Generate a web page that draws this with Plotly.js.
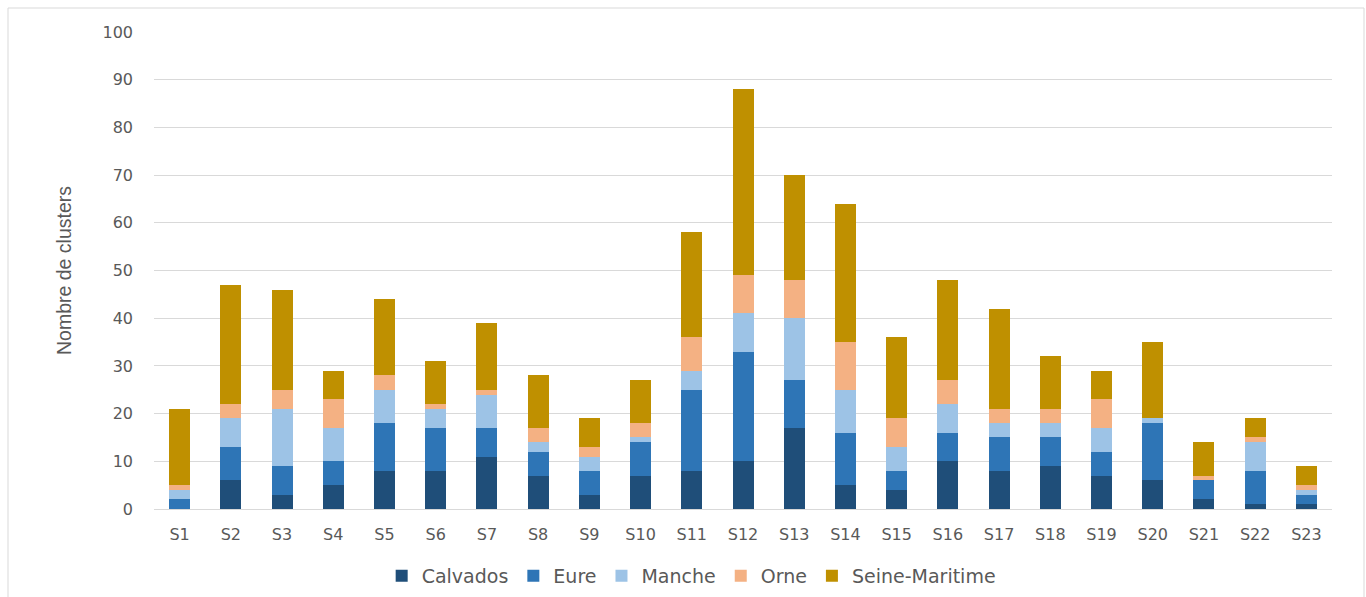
<!DOCTYPE html>
<html>
<head>
<meta charset="utf-8">
<script src="https://cdn.plot.ly/plotly-3.0.1.min.js"></script>
<style>
  html, body { margin: 0; padding: 0; background: #ffffff; }
  #chart { width: 1366px; height: 597px; }
</style>
</head>
<body>
<div id="chart"></div>
<script>
// Weekly cluster counts per département (stacked)
const weeks = ["S1","S2","S3","S4","S5","S6","S7","S8","S9","S10","S11","S12",
               "S13","S14","S15","S16","S17","S18","S19","S20","S21","S22","S23"];
const calvados      = [0,6,3,5,8,8,11,7,3,7,8,10,17,5,4,10,8,9,7,6,2,1,1];
const eure          = [2,7,6,5,10,9,6,5,5,7,17,23,10,11,4,6,7,6,5,12,4,7,2];
const manche        = [2,6,12,7,7,4,7,2,3,1,4,8,13,9,5,6,3,3,5,1,0,6,1];
const orne          = [1,3,4,6,3,1,1,3,2,3,7,8,8,10,6,5,3,3,6,0,1,1,1];
const seineMaritime = [16,25,21,6,16,9,14,11,6,9,22,39,22,29,17,21,21,11,6,16,7,4,4];
const yTicks = [0,10,20,30,40,50,60,70,80,90,100];

const series = [
  { name: "Calvados",       y: calvados,      color: "#1F4E79" },
  { name: "Eure",           y: eure,          color: "#2E75B6" },
  { name: "Manche",         y: manche,        color: "#9DC3E6" },
  { name: "Orne",           y: orne,          color: "#F4B183" },
  { name: "Seine-Maritime", y: seineMaritime, color: "#BF9000" }
];

const traces = series.map(s => ({
  type: "bar",
  name: s.name,
  x: weeks,
  y: s.y,
  marker: { color: s.color, line: { width: 0 } }
}));

const textGray = "#595959";
const gridGray = "#D9D9D9";

const layout = {
  width: 1366,
  height: 597,
  barmode: "stack",
  bargap: 0.59,
  paper_bgcolor: "#ffffff",
  plot_bgcolor: "#ffffff",
  margin: { l: 154, r: 34, t: 32, b: 88, autoexpand: false },
  font: { family: "DejaVu Sans, Verdana, sans-serif", color: textGray, size: 16 },
  xaxis: {
    type: "category",
    showgrid: false,
    showline: false,
    ticks: "",
    ticklabelstandoff: 14,
    tickfont: { size: 16, color: textGray }
  },
  yaxis: {
    range: [0, 100],
    tickvals: yTicks,
    ticktext: yTicks.map(String),
    showgrid: true,
    gridcolor: gridGray,
    gridwidth: 1,
    zeroline: true,
    zerolinecolor: gridGray,
    zerolinewidth: 1,
    showline: false,
    ticks: "",
    ticklabelstandoff: 20,
    tickfont: { size: 16, color: textGray },
    title: {
      text: "Nombre de clusters",
      font: { family: "Liberation Sans Narrow, Arial Narrow, sans-serif", size: 19.5, color: textGray },
      standoff: 25
    }
  },
  legend: {
    orientation: "h",
    x: 0.456,
    xanchor: "center",
    y: -0.14,
    yanchor: "middle",
    traceorder: "normal",
    font: { size: 19, color: textGray },
    itemwidth: 30
  },
  shapes: [{
    type: "rect",
    xref: "paper", yref: "paper",
    x0: (8 - 154) / 1178, x1: (1364 - 154) / 1178,
    y0: (509 - 600) / 477, y1: (509 - 8) / 477,
    line: { color: "#D9D9D9", width: 1 },
    fillcolor: "rgba(0,0,0,0)",
    layer: "below"
  }],
  showlegend: true
};

Plotly.newPlot("chart", traces, layout, { staticPlot: true, displayModeBar: false });
</script>
</body>
</html>
